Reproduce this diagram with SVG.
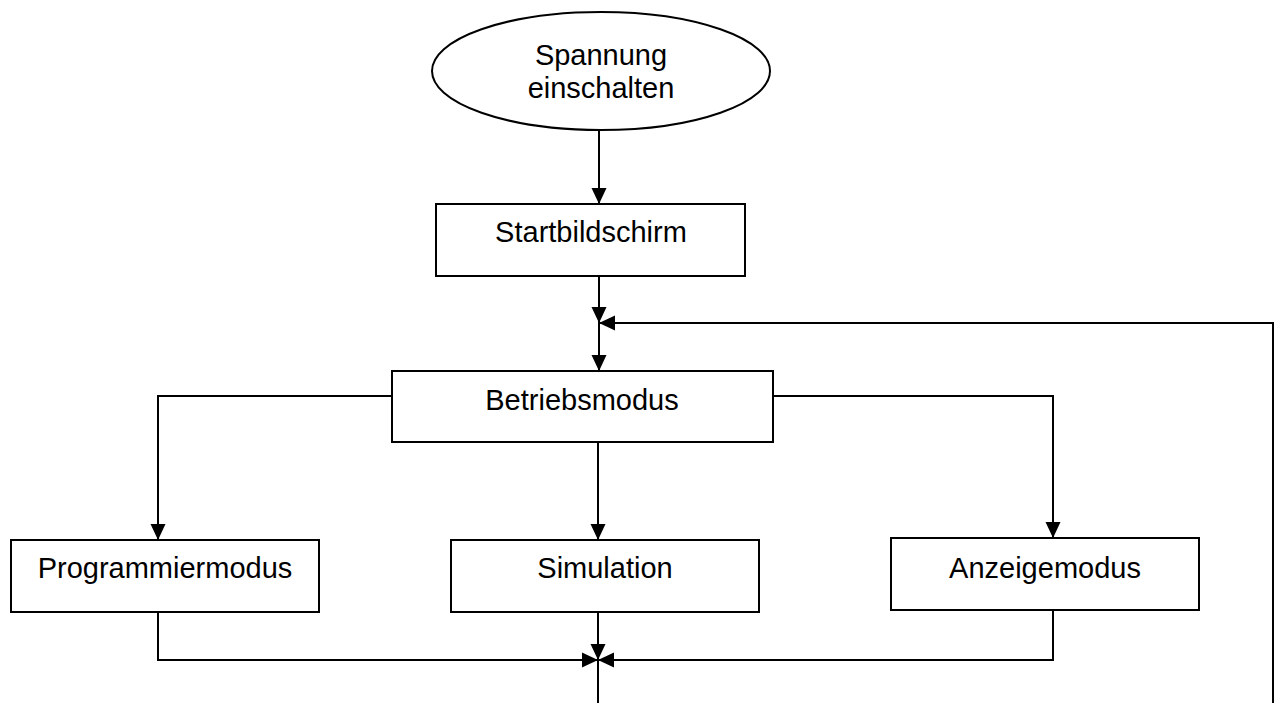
<svg xmlns="http://www.w3.org/2000/svg" width="1274" height="703" viewBox="0 0 1274 703">
<style>
.box{fill:#fff;stroke:#000;stroke-width:2}
.lbl{font-family:"Liberation Sans",Arial,sans-serif;font-size:29px;fill:#000;text-anchor:middle}
.con{fill:none;stroke:#000;stroke-width:2}
</style>
<defs>
<marker id="arr" markerUnits="userSpaceOnUse" markerWidth="16" markerHeight="16" viewBox="0 0 16 16" refX="16" refY="8" orient="auto">
<path d="M0,0.5 L16,8 L0,15.5 Z" fill="#000"/>
</marker>
</defs>
<rect width="1274" height="703" fill="#fff"/>
<g id="connectors">
<path class="con" d="M599,130 V204" marker-end="url(#arr)"/>
<path class="con" d="M599,276 V323" marker-end="url(#arr)"/>
<path class="con" d="M1273,703 V323 H599" marker-end="url(#arr)"/>
<path class="con" d="M599,323 V371" marker-end="url(#arr)"/>
<path class="con" d="M392,396 H158 V540" marker-end="url(#arr)"/>
<path class="con" d="M773,396 H1053 V538" marker-end="url(#arr)"/>
<path class="con" d="M598,442 V540" marker-end="url(#arr)"/>
<path class="con" d="M158,612 V660 H598" marker-end="url(#arr)"/>
<path class="con" d="M598,612 V660" marker-end="url(#arr)"/>
<path class="con" d="M1053,610 V660 H598" marker-end="url(#arr)"/>
<path class="con" d="M598,660 V703"/>
</g>
<g id="spannung">
<ellipse class="box" cx="601" cy="71" rx="169" ry="59"/>
<text class="lbl" x="601" y="65">Spannung</text>
<text class="lbl" x="601" y="98">einschalten</text>
</g>
<g id="startbildschirm">
<rect class="box" x="436" y="204" width="309" height="72"/>
<text class="lbl" x="591" y="242">Startbildschirm</text>
</g>
<g id="betriebsmodus">
<rect class="box" x="392" y="371" width="381" height="71"/>
<text class="lbl" x="582" y="410">Betriebsmodus</text>
</g>
<g id="programmiermodus">
<rect class="box" x="11" y="540" width="308" height="72"/>
<text class="lbl" x="165" y="578">Programmiermodus</text>
</g>
<g id="simulation">
<rect class="box" x="451" y="540" width="308" height="72"/>
<text class="lbl" x="605" y="578">Simulation</text>
</g>
<g id="anzeigemodus">
<rect class="box" x="891" y="538" width="308" height="72"/>
<text class="lbl" x="1045" y="578">Anzeigemodus</text>
</g>
</svg>
